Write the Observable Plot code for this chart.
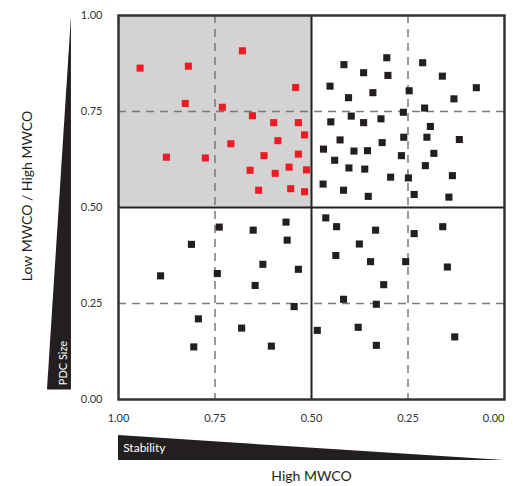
<!DOCTYPE html>
<html><head><meta charset="utf-8">
<script src="https://cdn.jsdelivr.net/npm/d3@7"></script>
<script src="https://cdn.jsdelivr.net/npm/@observablehq/plot@0.6"></script>
<style>body{margin:0;background:#fff}</style>
</head><body><div id="chart"></div>
<script>
// Red points (top-left quadrant)
const redX = [0.944,0.819,0.679,0.541,0.827,0.731,0.653,0.598,0.534,0.518,0.587,0.709,0.876,0.775,0.623,0.534,0.558,0.513,0.659,0.594,0.637,0.554,0.518];
const redY = [0.863,0.868,0.908,0.8125,0.771,0.761,0.739,0.721,0.721,0.689,0.674,0.666,0.631,0.629,0.635,0.639,0.605,0.598,0.597,0.589,0.545,0.549,0.541];
// Black points (other quadrants)
const blackX = [0.305,0.416,0.212,0.365,0.302,0.161,0.452,0.073,0.341,0.247,0.404,0.131,0.207,0.262,0.397,0.450,0.365,0.320,0.192,0.426,0.261,0.201,0.117,0.317,0.469,0.390,0.355,0.267,0.183,0.440,0.403,0.362,0.205,0.295,0.249,0.135,0.470,0.417,0.353,0.234,0.144,
  0.566,0.739,0.651,0.563,0.811,0.626,0.534,0.891,0.744,0.646,0.545,0.793,0.681,0.805,0.604,
  0.463,0.435,0.334,0.234,0.160,0.376,0.437,0.347,0.256,0.148,0.313,0.417,0.332,0.485,0.379,0.129,0.332];
const blackY = [0.890,0.872,0.877,0.851,0.844,0.842,0.816,0.812,0.799,0.804,0.786,0.783,0.759,0.748,0.738,0.723,0.721,0.731,0.711,0.676,0.683,0.683,0.677,0.669,0.652,0.647,0.648,0.635,0.641,0.623,0.603,0.600,0.609,0.579,0.577,0.583,0.561,0.545,0.529,0.534,0.527,
  0.462,0.449,0.441,0.415,0.404,0.352,0.339,0.322,0.328,0.297,0.242,0.210,0.186,0.137,0.139,
  0.473,0.450,0.441,0.432,0.450,0.405,0.375,0.359,0.359,0.345,0.299,0.261,0.248,0.180,0.188,0.163,0.141];
const tickValues = [0, 0.25, 0.5, 0.75, 1];
const dashedAt = [0.25, 0.75];
const solidAt = [0.5];
const yTitle = "Low MWCO / High MWCO";
const xTitle = "High MWCO";
const yWedgeLabel = "PDC Size";
const xWedgeLabel = "Stability";

const red = redX.map((x, i) => ({x, y: redY[i]}));
const black = blackX.map((x, i) => ({x, y: blackY[i]}));
const fmt = d3.format(".2f");
const ink = "#231f20";

const plot = Plot.plot({
  width: 513, height: 486,
  marginLeft: 118, marginRight: 9, marginTop: 15, marginBottom: 87,
  style: {fontFamily: "Lato, sans-serif", fontSize: "11px", color: "#333", background: "#fff"},
  x: {domain: [1, 0], label: null},
  y: {domain: [0, 1], label: null},
  marks: [
    Plot.rect([{x1: 1, x2: 0.5, y1: 0.5, y2: 1}], {x1: "x1", x2: "x2", y1: "y1", y2: "y2", fill: "#d3d3d3"}),
    Plot.ruleX(dashedAt, {stroke: "#7a7a7a", strokeWidth: 1.5, strokeDasharray: "8,6"}),
    Plot.ruleY(dashedAt, {stroke: "#7a7a7a", strokeWidth: 1.5, strokeDasharray: "8,6"}),
    Plot.ruleX(solidAt, {stroke: "#222", strokeWidth: 2}),
    Plot.ruleY(solidAt, {stroke: "#222", strokeWidth: 2}),
    Plot.frame({stroke: "#333", strokeWidth: 2.5}),
    Plot.dot(black, {x: "x", y: "y", symbol: "square", r: 4, fill: ink}),
    Plot.dot(red, {x: "x", y: "y", symbol: "square", r: 4, fill: "#ed1c24"}),
    Plot.axisY(tickValues, {tickSize: 0, tickPadding: 16, tickFormat: fmt, label: null, fill: "#333"}),
    Plot.axisX(tickValues.filter(d => d > 0), {tickSize: 0, tickPadding: 15, tickFormat: fmt, label: null, fill: "#333"}),
    Plot.axisX([0], {tickSize: 0, tickPadding: 15, tickFormat: fmt, label: null, textAnchor: "end", fill: "#333"}),
    // left wedge (PDC Size)
    Plot.areaX([{y: 0.025, a: 1.122, b: 1.184}, {y: 0.995, a: 1.122, b: 1.122}], {y: "y", x1: "a", x2: "b", fill: ink}),
    // bottom wedge (Stability)
    Plot.areaY([{x: 1, a: -0.159, b: -0.094}, {x: 0, a: -0.159, b: -0.159}], {x: "x", y1: "a", y2: "b", fill: ink}),
    Plot.text([yWedgeLabel], {x: 1.143, y: 0.095, text: d => d, rotate: -90, fill: "#fff", fontSize: 11}),
    Plot.text([xWedgeLabel], {x: 0.988, y: -0.128, text: d => d, textAnchor: "start", fill: "#fff", fontSize: 12}),
    Plot.text([yTitle], {x: 1.236, y: 0.53, text: d => d, rotate: -90, fill: ink, fontSize: 14}),
    Plot.text([xTitle], {x: 0.5, y: -0.2, text: d => d, fill: ink, fontSize: 14})
  ]
});
document.getElementById("chart").appendChild(plot);
</script>
</body></html>
